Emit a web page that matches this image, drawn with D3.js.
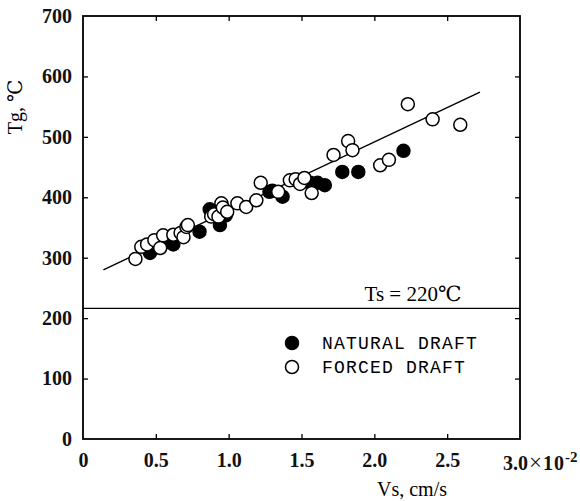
<!DOCTYPE html>
<html>
<head>
<meta charset="utf-8">
<script src="https://cdn.jsdelivr.net/npm/d3@7"></script>
<style>
  body { margin: 0; background: #fff; }
  svg { display: block; }
</style>
</head>
<body>
<div id="chart"></div>
<script>
// natural draft (filled) and forced draft (open) points: [Vs x1e-2 cm/s, Tg C]
var naturalDraft = [
  [0.46, 308], [0.52, 318], [0.58, 326], [0.62, 322], [0.80, 343],
  [0.87, 380], [0.94, 354], [0.98, 370], [1.28, 409], [1.30, 411],
  [1.37, 401], [1.56, 424], [1.61, 424], [1.66, 420], [1.78, 442],
  [1.89, 442], [2.20, 477]
];
var forcedDraft = [
  [0.36, 298], [0.40, 318], [0.44, 322], [0.49, 329], [0.53, 316],
  [0.55, 337], [0.62, 338], [0.67, 341], [0.69, 334], [0.71, 351],
  [0.72, 354], [0.88, 368], [0.90, 372], [0.93, 368], [0.95, 390],
  [0.96, 383], [0.99, 376], [1.06, 390], [1.12, 384], [1.19, 395],
  [1.22, 424], [1.34, 409], [1.42, 428], [1.46, 430], [1.49, 422],
  [1.52, 432], [1.57, 407], [1.72, 470], [1.82, 493], [1.85, 478],
  [2.04, 453], [2.10, 462], [2.23, 554], [2.40, 529], [2.59, 520]
];
var fitLine = [[0.14, 280], [2.725, 574]];
var tsLevel = 216;
var xTicks = [0, 0.5, 1.0, 1.5, 2.0, 2.5];
var yTicks = [0, 100, 200, 300, 400, 500, 600, 700];
var legendLabels = ['NATURAL DRAFT', 'FORCED DRAFT'];

var w = 580, h = 501;
var mLeft = 83, mRight = 520, mTop = 16, mBottom = 439;

var svg = d3.select('#chart').append('svg')
  .attr('width', w)
  .attr('height', h);

var x = d3.scaleLinear().domain([0, 3.0]).range([mLeft, mRight]);
var y = d3.scaleLinear().domain([0, 700]).range([mBottom, mTop]);

var serif = '"Liberation Serif", "DejaVu Serif", serif';
var mono = '"Liberation Mono", "DejaVu Sans Mono", monospace';

// axes, ticks pointing inward
var fmtX = function(d) { return d === 0 ? '0' : d3.format('.1f')(d); };

var gx = svg.append('g')
  .attr('transform', 'translate(0,' + mBottom + ')')
  .call(d3.axisBottom(x).tickValues(xTicks).tickSizeInner(-5).tickSizeOuter(0).tickPadding(14).tickFormat(fmtX));
var gxt = svg.append('g')
  .attr('transform', 'translate(0,' + mTop + ')')
  .call(d3.axisTop(x).tickValues(xTicks.slice(1)).tickSizeInner(-5).tickSizeOuter(0).tickFormat(''));
var gy = svg.append('g')
  .attr('transform', 'translate(' + mLeft + ',0)')
  .call(d3.axisLeft(y).tickValues(yTicks).tickSizeInner(-5).tickSizeOuter(0).tickPadding(11));
var gyr = svg.append('g')
  .attr('transform', 'translate(' + mRight + ',0)')
  .call(d3.axisRight(y).tickValues(yTicks.slice(1, -1)).tickSizeInner(-5).tickSizeOuter(0).tickFormat(''));

[gx, gxt, gy, gyr].forEach(function(g) {
  g.select('.domain').remove();
  g.selectAll('.tick line').attr('stroke', '#000').attr('stroke-width', 1.3);
  g.selectAll('.tick text')
    .attr('font-family', serif)
    .attr('font-size', 20)
    .attr('font-weight', 'bold')
    .attr('fill', '#111');
});
// no tick marks on the frame corners
gx.selectAll('.tick').filter(function(d) { return d === 0; }).select('line').remove();
gy.selectAll('.tick').filter(function(d) { return d === 0 || d === 700; }).select('line').remove();

// 3.0x10^-2 at the right end
var lab = svg.append('text')
  .attr('x', x(3.0) - 17)
  .attr('y', mBottom + 31)
  .attr('font-family', serif)
  .attr('font-size', 20)
  .attr('font-weight', 'bold')
  .attr('fill', '#111');
lab.append('tspan').text('3.0');
lab.append('tspan').attr('dx', 1).attr('font-size', 23).attr('font-weight', 'normal').text('×');
lab.append('tspan').attr('dx', 1).attr('letter-spacing', 1).text('10');
lab.append('tspan').attr('dy', -8).attr('font-size', 15).text('-2');

// frame
svg.append('rect')
  .attr('x', mLeft).attr('y', mTop)
  .attr('width', mRight - mLeft).attr('height', mBottom - mTop)
  .attr('fill', 'none')
  .attr('stroke', '#000')
  .attr('stroke-width', 1.8);

// Ts line
svg.append('line')
  .attr('x1', mLeft).attr('x2', mRight)
  .attr('y1', y(tsLevel)).attr('y2', y(tsLevel))
  .attr('stroke', '#000')
  .attr('stroke-width', 1.3);

svg.append('text')
  .attr('x', 413)
  .attr('y', y(tsLevel) - 7)
  .attr('text-anchor', 'middle')
  .attr('font-family', serif)
  .attr('font-size', 21)
  .text('Ts = 220℃');

// fit line
svg.append('path')
  .datum(fitLine)
  .attr('d', d3.line().x(function(d) { return x(d[0]); }).y(function(d) { return y(d[1]); }))
  .attr('fill', 'none')
  .attr('stroke', '#000')
  .attr('stroke-width', 1.4);

// points
var r = 6.5;
svg.append('g').selectAll('circle')
  .data(naturalDraft)
  .join('circle')
  .attr('cx', function(d) { return x(d[0]); })
  .attr('cy', function(d) { return y(d[1]); })
  .attr('r', r)
  .attr('fill', '#000')
  .attr('stroke', '#000')
  .attr('stroke-width', 1.5);

svg.append('g').selectAll('circle')
  .data(forcedDraft)
  .join('circle')
  .attr('cx', function(d) { return x(d[0]); })
  .attr('cy', function(d) { return y(d[1]); })
  .attr('r', r)
  .attr('fill', '#fff')
  .attr('stroke', '#000')
  .attr('stroke-width', 1.5);

// legend
var lg = svg.append('g');
legendLabels.forEach(function(t, i) {
  var cy = 343 + i * 24;
  lg.append('circle')
    .attr('cx', 292).attr('cy', cy).attr('r', r)
    .attr('fill', i === 0 ? '#000' : '#fff')
    .attr('stroke', '#000').attr('stroke-width', 1.5);
  lg.append('text')
    .attr('x', 322).attr('y', cy + 6)
    .attr('font-family', mono)
    .attr('font-size', 18)
    .attr('letter-spacing', 1.2)
    .text(t);
});

// axis titles
svg.append('text')
  .attr('transform', 'translate(22,107) rotate(-90)')
  .attr('text-anchor', 'middle')
  .attr('font-family', serif)
  .attr('font-size', 20)
  .text('Tg, ℃');

svg.append('text')
  .attr('x', 412)
  .attr('y', 496)
  .attr('text-anchor', 'middle')
  .attr('font-family', serif)
  .attr('font-size', 20)
  .text('Vs, cm/s');
</script>
</body>
</html>
